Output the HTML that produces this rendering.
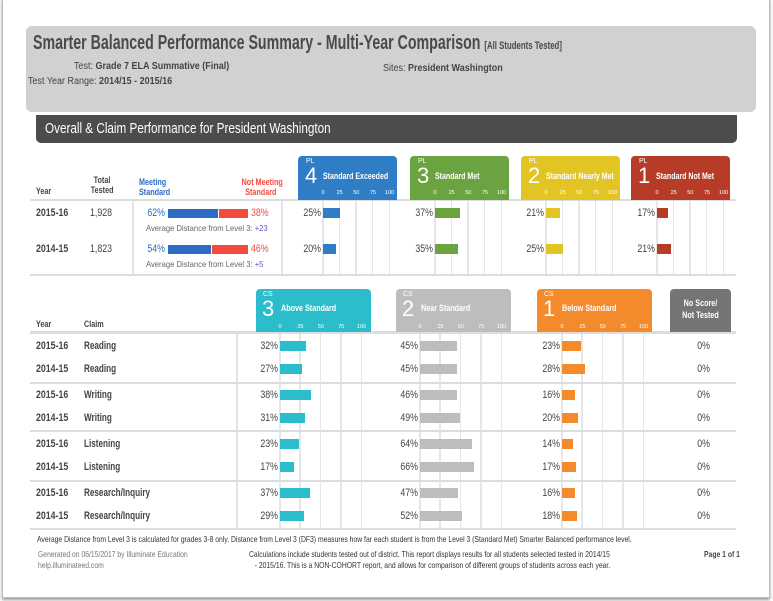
<!DOCTYPE html>
<html><head><meta charset="utf-8"><style>
body{margin:0;width:773px;height:601px;background:#fff;position:relative;overflow:hidden;font-family:"Liberation Sans Narrow","Liberation Sans",sans-serif;color:#444}
.a{position:absolute;white-space:nowrap}
.b{font-weight:bold}
.n{transform:scaleX(0.8);transform-origin:left}
.nr{transform:scaleX(0.8);transform-origin:right}
.nc{transform:scaleX(0.8);transform-origin:center}
</style></head><body>
<div class="a" style="left:2px;top:-2px;width:766px;height:598px;border:1px solid #bbb;box-shadow:0 2px 3px #999;background:#fff"></div>
<div class="a" style="left:26px;top:26px;width:730px;height:86px;background:#d0d1d3;border-radius:6px"></div>
<div class="a b" style="left:33px;top:32px;font-size:20px;color:#4a4a4a;transform:scaleX(0.71);transform-origin:left">Smarter Balanced Performance Summary - Multi-Year Comparison <span style="font-size:11px">[All Students Tested]</span></div>
<div class="a" style="left:74px;top:61px;font-size:10px;color:#444;transform:scaleX(0.9);transform-origin:left">Test: <b>Grade 7 ELA Summative (Final)</b></div>
<div class="a" style="left:28px;top:76px;font-size:10px;color:#444;transform:scaleX(0.9);transform-origin:left">Test Year Range: <b>2014/15 - 2015/16</b></div>
<div class="a" style="left:383px;top:63px;font-size:10px;color:#444;transform:scaleX(0.9);transform-origin:left">Sites: <b>President Washington</b></div>
<div class="a" style="left:36px;top:115px;width:701px;height:28px;background:#4c4c4c;border-radius:0 0 5px 5px;color:#fff;font-size:15px;line-height:28px"><span style="position:absolute;left:9px;transform:scaleX(0.78);transform-origin:left">Overall &amp; Claim Performance for President Washington</span></div>

<div class="a b n" style="left:36px;top:186px;font-size:9px">Year</div>
<div class="a b nc" style="left:88px;top:175px;font-size:9px;text-align:center;width:28px">Total<br>Tested</div>
<div class="a b n" style="left:139px;top:177px;font-size:9px;color:#2b6cc4">Meeting<br>Standard</div>
<div class="a b nr" style="left:232px;top:177px;width:48px;font-size:9px;color:#f44a3c;text-align:center">Not Meeting<br>Standard</div>
<div class="a" style="left:30px;top:199px;width:706px;height:2px;background:#ddd"></div>
<div class="a" style="left:30px;top:274px;width:706px;height:2px;background:#ddd"></div>
<div class="a" style="left:132px;top:201px;width:2px;height:73px;background:#e4e4e4"></div>
<div class="a" style="left:281px;top:201px;width:2px;height:73px;background:#e4e4e4"></div>
<div class="a" style="left:30px;top:331px;width:706px;height:3px;background:#ddd"></div>
<div class="a b n" style="left:36px;top:319px;font-size:9px">Year</div>
<div class="a b n" style="left:84px;top:319px;font-size:9px">Claim</div>
<div class="a" style="left:236px;top:334px;width:2px;height:195px;background:#e4e4e4"></div>

<div class="a" style="left:37px;top:534px;font-size:8.5px;color:#333;transform:scaleX(0.8);transform-origin:left">Average Distance from Level 3 is calculated for grades 3-8 only. Distance from Level 3 (DF3) measures how far each student is from the Level 3 (Standard Met) Smarter Balanced performance level.</div>
<div class="a" style="left:38px;top:549px;font-size:8.5px;color:#777;line-height:11px;transform:scaleX(0.8);transform-origin:left">Generated on 06/15/2017 by Illuminate Education<br>help.illuminateed.com</div>
<div class="a" style="left:249px;top:549px;font-size:8.5px;color:#333;line-height:11px;transform:scaleX(0.8);transform-origin:left">Calculations include students tested out of district. This report displays results for all students selected tested in 2014/15<br>&nbsp;&nbsp;&nbsp;- 2015/16. This is a NON-COHORT report, and allows for comparison of different groups of students across each year.</div>
<div class="a b" style="left:704px;top:549px;font-size:8.5px;color:#444;transform:scaleX(0.8);transform-origin:left">Page 1 of 1</div>

<div id="root"></div>
<script>
// Overall data
const years = ["2015-16", "2014-15"];
const totals = ["1,928", "1,823"];
const meeting = [62, 54];
const notMeeting = [38, 46];
const distances = ["+23", "+5"];
const plNames = ["Standard Exceeded", "Standard Met", "Standard Nearly Met", "Standard Not Met"];
const plNums = ["4", "3", "2", "1"];
const pl4 = [25, 20];
const pl3 = [37, 35];
const pl2 = [21, 25];
const pl1 = [17, 21];
// Claim data
const claimYears = ["2015-16", "2014-15", "2015-16", "2014-15", "2015-16", "2014-15", "2015-16", "2014-15"];
const claims = ["Reading", "Reading", "Writing", "Writing", "Listening", "Listening", "Research/Inquiry", "Research/Inquiry"];
const above = [32, 27, 38, 31, 23, 17, 37, 29];
const near = [45, 45, 46, 49, 64, 66, 47, 52];
const below = [23, 28, 16, 20, 14, 17, 16, 18];
const noScore = [0, 0, 0, 0, 0, 0, 0, 0];
const ticks = [0, 25, 50, 75, 100];

const root = document.getElementById('root');
function el(style, text, cls) {
  const d = document.createElement('div');
  d.className = 'a' + (cls ? ' ' + cls : '');
  d.style.cssText = style;
  if (text !== undefined) d.textContent = text;
  root.appendChild(d);
  return d;
}
// Overall rows
const rowY = [213, 249];
years.forEach((y, i) => {
  const cy = rowY[i];
  let e = el(`left:36px;top:${cy-6}px;font-size:11px;font-weight:bold`, y, 'n');
  
  
  e = el(`left:90px;top:${cy-6}px;font-size:11px`, totals[i], 'n');
  
  
  e = el(`left:135px;top:${cy-6}px;width:30px;text-align:right;font-size:11px;color:#2b6cc4`, meeting[i] + '%', 'nr');
  
  
  const w = 80, x0 = 168;
  const mw = w * meeting[i] / 100;
  e = el(`left:${x0}px;top:${cy-4}px;width:${mw}px;height:9px;background:#2b6cc4`);
  
  
  e = el(`left:${x0+mw+1}px;top:${cy-4}px;width:${w*notMeeting[i]/100-1}px;height:9px;background:#f44a3c`);
  
  
  e = el(`left:251px;top:${cy-6}px;font-size:11px;color:#f44a3c`, notMeeting[i] + '%', 'n');
  
  
  e = el(`left:146px;top:${cy+10}px;font-size:8.5px;color:#666;transform:scaleX(0.9);transform-origin:left`);
  e.innerHTML = 'Average Distance from Level 3: <span style="color:#5b5bc8">' + distances[i] + '</span>';
  
  
});
// PL panels
const plColors = ["#2f7dc4", "#6aa33f", "#e2c424", "#b63c27"];
const plLeft = [298, 410, 521, 631];
const plZero = [323, 435, 546, 657];
const plSeries = [pl4, pl3, pl2, pl1];
const plScale = 0.665;
plSeries.forEach((s, k) => {
  let e = el(`left:${plLeft[k]}px;top:156px;width:99px;height:44px;background:${plColors[k]};border-radius:4px 4px 0 0;color:#fff`);
  e.innerHTML = `<div class="a" style="left:8px;top:2px;font-size:7px">PL</div><div class="a" style="left:7px;top:7px;font-size:22px">${plNums[k]}</div><div class="a" style="left:25px;top:15px;font-size:9px;font-weight:bold;transform:scaleX(0.78);transform-origin:left">${plNames[k]}</div>`;
  
  
  ticks.forEach(t => {
    const x = plZero[k] + t * plScale;
    let g = el(`left:${x-1}px;top:201px;width:1.5px;height:73px;background:#e6e6e6`);
    
    
    g = el(`left:${x-10}px;top:190px;width:20px;text-align:center;font-size:5.5px;color:#fff`, t);
    
    
  });
  s.forEach((v, i) => {
    const cy = rowY[i];
    let b = el(`left:${plZero[k]}px;top:${cy-5}px;width:${v*plScale}px;height:10px;background:${plColors[k]}`);
    
    
    b = el(`left:${plZero[k]-40}px;top:${cy-6}px;width:38px;text-align:right;font-size:11px`, v + '%', 'nr');
    
    
  });
});
// CS panels
const csNames = ["Above Standard", "Near Standard", "Below Standard"];
const csNums = ["3", "2", "1"];
const csColors = ["#2bbdcb", "#bdbdbd", "#f38a2c"];
const csLeft = [256, 396, 537];
const csZero = [280, 420, 562];
const csSeries = [above, near, below];
const csScale = 0.815;
const cRowY = [346, 369, 395, 418, 444, 467, 493, 516];
const groupLines = [382, 430, 480, 528];
csSeries.forEach((s, k) => {
  let e = el(`left:${csLeft[k]}px;top:289px;width:115px;height:43px;background:${csColors[k]};border-radius:4px 4px 0 0;color:#fff`);
  e.innerHTML = `<div class="a" style="left:7px;top:2px;font-size:7px">CS</div><div class="a" style="left:6px;top:7px;font-size:22px">${csNums[k]}</div><div class="a" style="left:25px;top:14px;font-size:9px;font-weight:bold;transform:scaleX(0.8);transform-origin:left">${csNames[k]}</div>`;
  
  
  ticks.forEach(t => {
    const x = csZero[k] + t * csScale;
    let g = el(`left:${x-1}px;top:334px;width:1.5px;height:195px;background:#e6e6e6`);
    
    
    g = el(`left:${x-10}px;top:324px;width:20px;text-align:center;font-size:5.5px;color:#fff`, t);
    
    
  });
  s.forEach((v, i) => {
    const cy = cRowY[i];
    let b = el(`left:${csZero[k]}px;top:${cy-5}px;width:${v*csScale}px;height:10px;background:${csColors[k]}`);
    
    
    b = el(`left:${csZero[k]-40}px;top:${cy-6}px;width:38px;text-align:right;font-size:11px`, v + '%', 'nr');
    
    
  });
});
let ns = el(`left:670px;top:289px;width:61px;height:43px;background:#757575;border-radius:4px 4px 0 0;color:#fff;font-size:9px;font-weight:bold;text-align:center;padding-top:8px;box-sizing:border-box;line-height:12px`);
ns.innerHTML = '<div class="nc">No Score/<br>Not Tested</div>';


claims.forEach((c, i) => {
  const cy = cRowY[i];
  let e = el(`left:36px;top:${cy-6}px;font-size:11px;font-weight:bold`, claimYears[i], 'n');
  
  
  e = el(`left:84px;top:${cy-6}px;font-size:11px;font-weight:bold;transform:scaleX(0.74);transform-origin:left`, c);
  
  
  e = el(`left:680px;top:${cy-6}px;width:30px;text-align:right;font-size:11px`, noScore[i] + '%', 'nr');
  
  
});
groupLines.forEach(y => {
  const e = el(`left:30px;top:${y}px;width:706px;height:2px;background:#ddd`);
  
  
});
</script>
</body></html>
